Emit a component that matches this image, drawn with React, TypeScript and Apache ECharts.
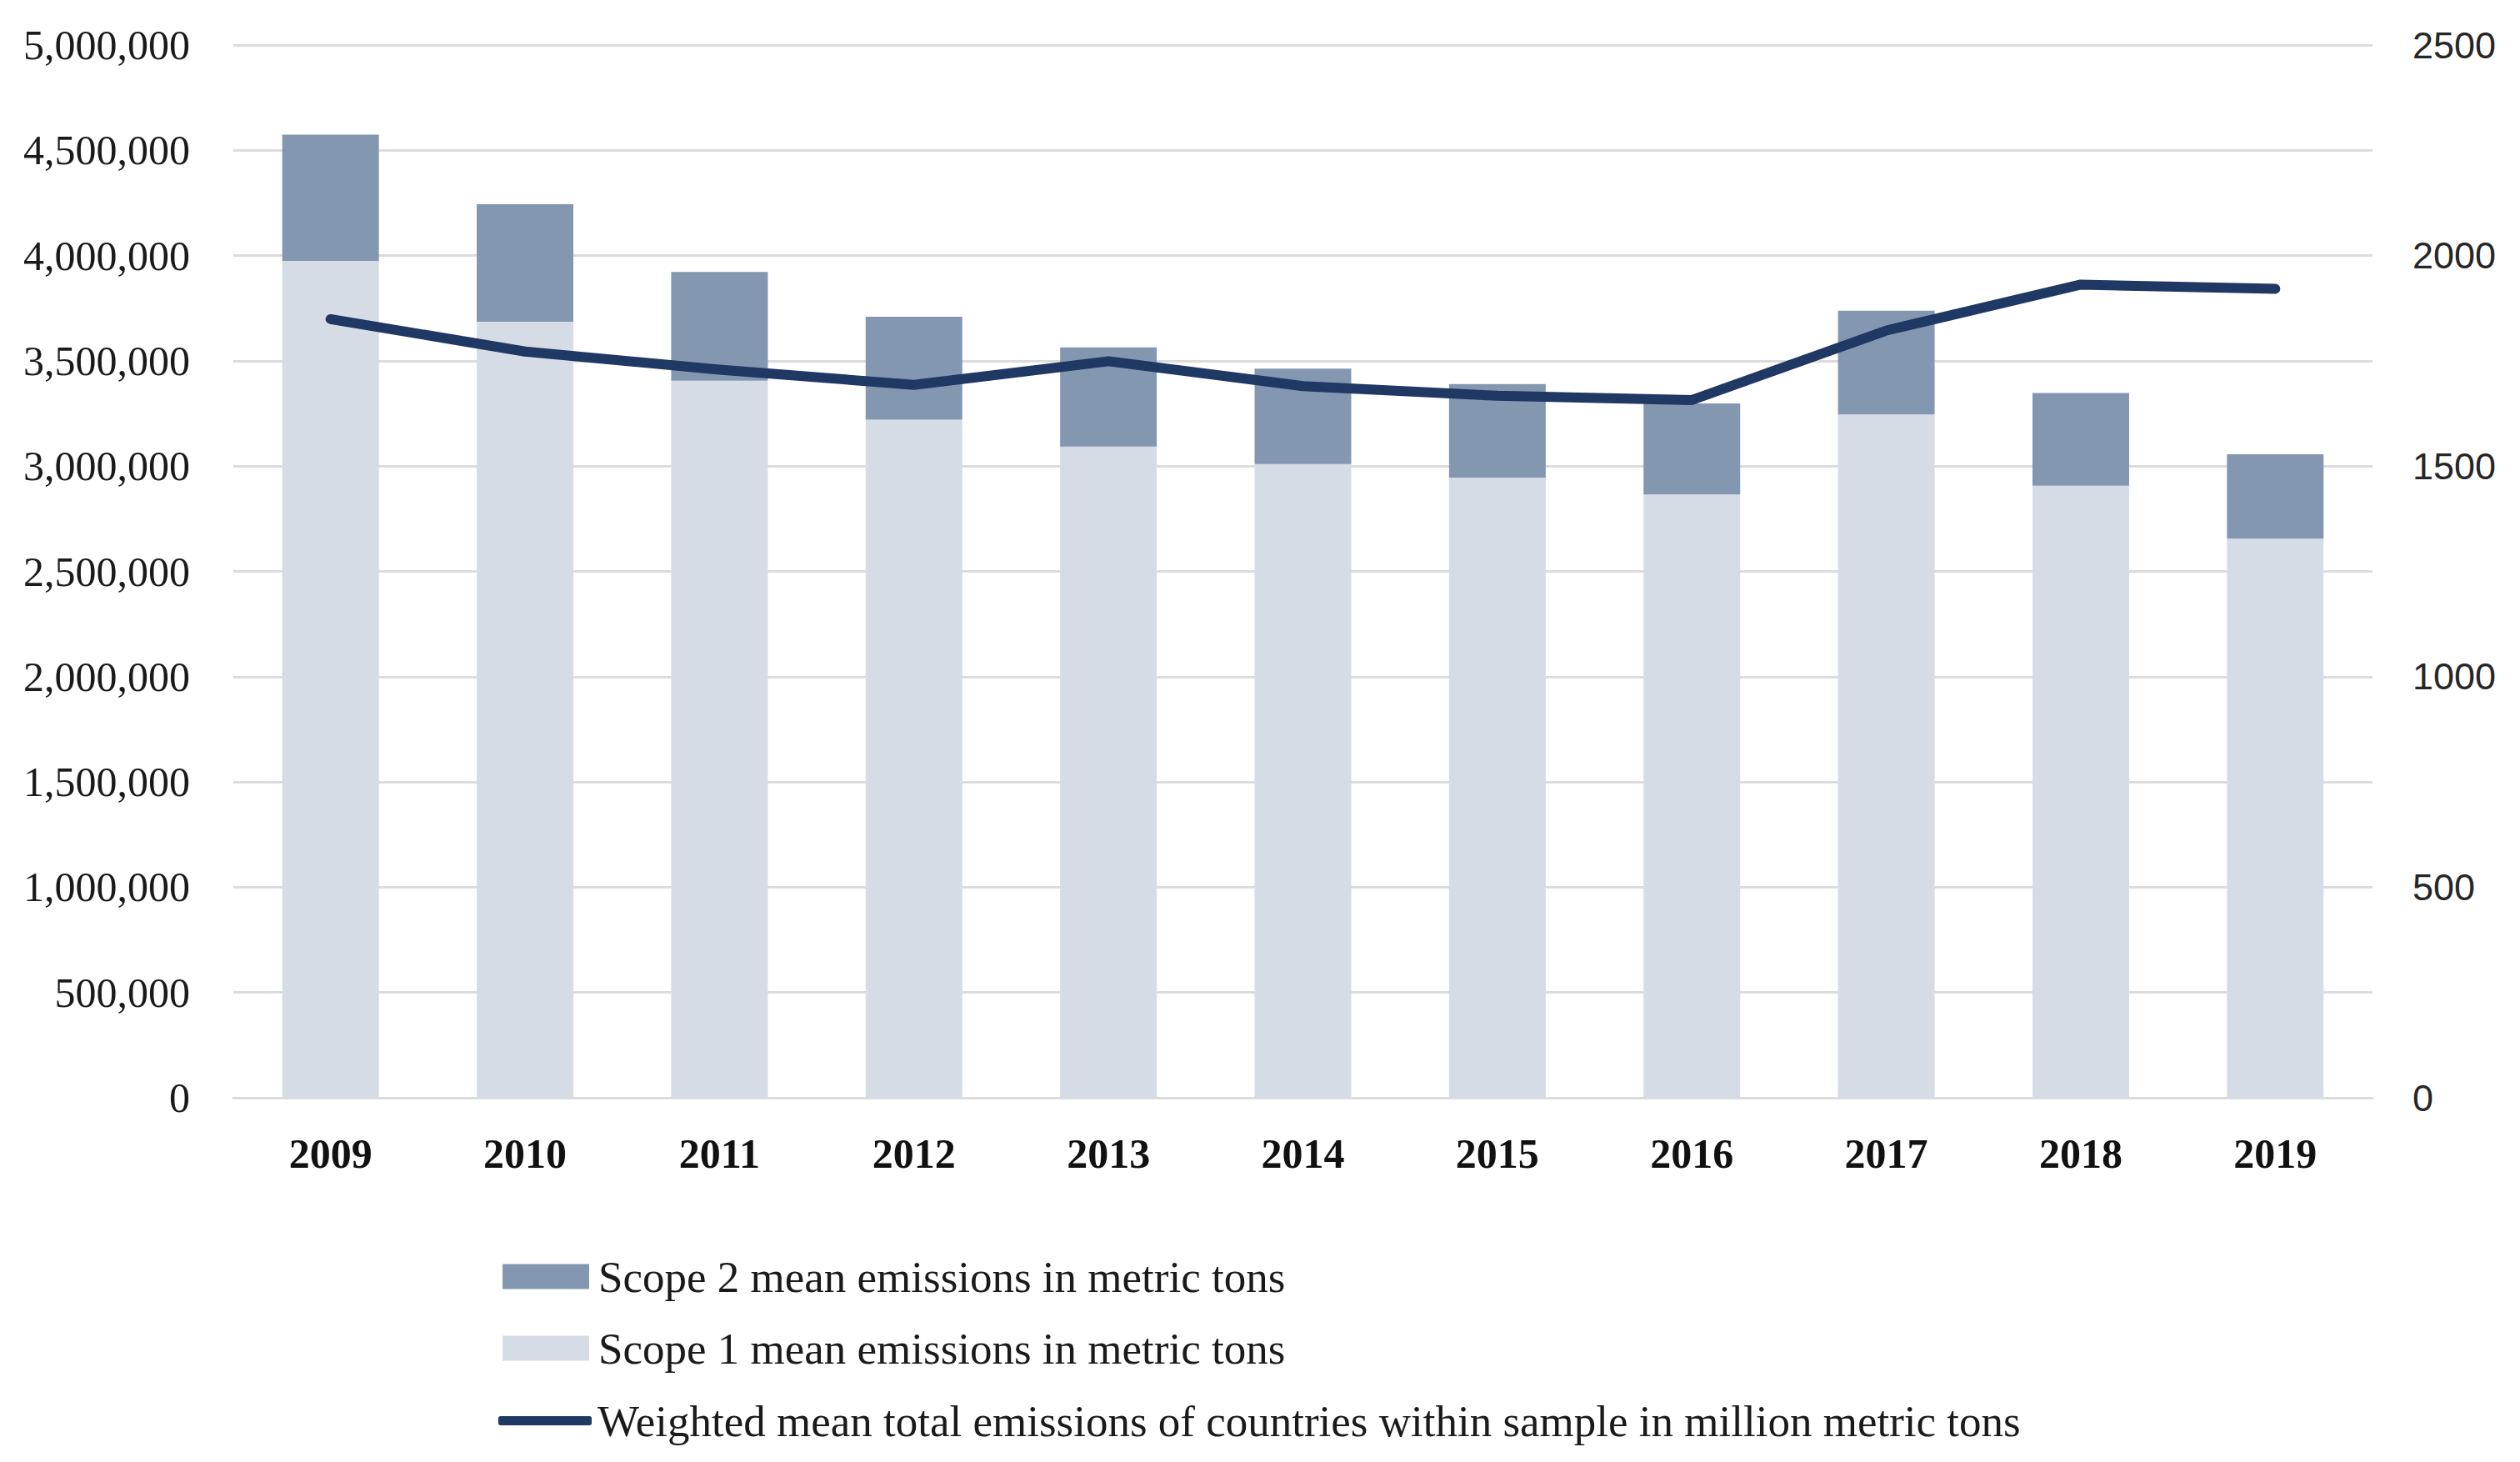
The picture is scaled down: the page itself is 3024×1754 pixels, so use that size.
import React, { useEffect, useRef } from "react";
import * as echarts from "echarts";

const years = ["2009", "2010", "2011", "2012", "2013", "2014", "2015", "2016", "2017", "2018", "2019"];
const scope1 = [3975000, 3686000, 3406000, 3221000, 3093000, 3010000, 2945000, 2865000, 3245000, 2907000, 2655000];
const scope2 = [599000, 558000, 516000, 488000, 471000, 453000, 445000, 433000, 493000, 440000, 401000];
const weighted = [1849, 1772, 1729, 1693, 1749, 1690, 1667, 1657, 1822, 1931, 1921];

const NAME_S2 = "Scope 2 mean emissions in metric tons";
const NAME_S1 = "Scope 1 mean emissions in metric tons";
const NAME_W = "Weighted mean total emissions of countries within sample in million metric tons";

const legendText = {
  fontFamily: "Liberation Serif",
  fontSize: 53,
  color: "#1a1a1a",
  lineHeight: 52,
  padding: [0, 0, 0, 6],
};

export default function App() {
  const ref = useRef<HTMLDivElement>(null);
  useEffect(() => {
    if (!ref.current) return;
    const chart = echarts.init(ref.current, null, { renderer: "svg" });
    const grid = "#dcdcdc";
    chart.setOption({
      animation: false,
      backgroundColor: "#ffffff",
      grid: { left: 280, right: 177, top: 54, bottom: 437, containLabel: false },
      legend: [
        {
          orient: "vertical",
          left: 603,
          top: 1505,
          padding: 0,
          itemWidth: 104,
          itemHeight: 30,
          icon: "rect",
          data: [{ name: NAME_S2 }],
          textStyle: legendText,
        },
        {
          orient: "vertical",
          left: 603,
          top: 1591,
          padding: 0,
          itemWidth: 104,
          itemHeight: 30,
          icon: "rect",
          data: [{ name: NAME_S1 }],
          textStyle: legendText,
        },
        {
          orient: "vertical",
          left: 598,
          top: 1678,
          padding: 0,
          itemWidth: 112,
          itemHeight: 11,
          icon: "roundRect",
          data: [{ name: NAME_W }],
          textStyle: { ...legendText, padding: [0, 0, 0, 2] },
        },
      ],
      xAxis: {
        type: "category",
        data: years,
        axisLine: { show: true, lineStyle: { color: grid, width: 3 } },
        axisTick: { show: false },
        axisLabel: {
          margin: 42,
          fontFamily: "Liberation Serif",
          fontWeight: "bold",
          fontSize: 50,
          color: "#111111",
        },
      },
      yAxis: [
        {
          type: "value",
          min: 0,
          max: 5000000,
          interval: 500000,
          axisLine: { show: false },
          axisTick: { show: false },
          splitLine: { lineStyle: { color: grid, width: 3 } },
          axisLabel: {
            margin: 52,
            fontFamily: "Liberation Serif",
            fontSize: 50,
            color: "#1a1a1a",
            formatter: (v: number) => v.toLocaleString("en-US"),
          },
        },
        {
          type: "value",
          min: 0,
          max: 2500,
          interval: 500,
          position: "right",
          axisLine: { show: false },
          axisTick: { show: false },
          splitLine: { show: false },
          axisLabel: {
            margin: 48,
            fontFamily: "Liberation Sans",
            fontSize: 45,
            color: "#262626",
            formatter: (v: number) => String(v),
          },
        },
      ],
      series: [
        {
          name: NAME_S1,
          type: "bar",
          stack: "total",
          data: scope1,
          barWidth: 116,
          itemStyle: { color: "#d6dce5" },
        },
        {
          name: NAME_S2,
          type: "bar",
          stack: "total",
          data: scope2,
          barWidth: 116,
          itemStyle: { color: "#8497b0" },
        },
        {
          name: NAME_W,
          type: "line",
          yAxisIndex: 1,
          data: weighted,
          symbol: "none",
          lineStyle: { color: "#203864", width: 12, cap: "round", join: "round" },
          itemStyle: { color: "#203864" },
        },
      ],
    });
    return () => chart.dispose();
  }, []);
  return (
    <div
      ref={ref}
      style={{ position: "absolute", left: 0, top: 0, width: 3024, height: 1754 }}
    />
  );
}
